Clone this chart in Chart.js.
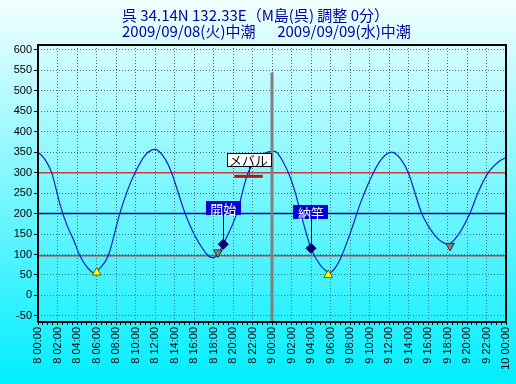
<!DOCTYPE html>
<html>
<head>
<meta charset="utf-8">
<script src="https://cdn.jsdelivr.net/npm/chart.js@4"></script>
<style>
  html, body { margin: 0; padding: 0; }
  #wrap { width: 516px; height: 384px; background: linear-gradient(#f2ffff, #00eeff); }
</style>
</head>
<body>
<div id="wrap"><canvas id="tideChart" width="516" height="384"></canvas></div>
<script>
const titleLines = ['呉 34.14N 132.33E（M島(呉) 調整 0分）', '2009/09/08(火)中潮　  2009/09/09(水)中潮'];

// hours from 2009/09/08 00:00, tide level in cm
const tideHours = [0, 0.7, 1.4, 2.26, 3, 3.62, 4.3, 5, 5.67, 6.4, 7.2, 8.4, 9.2, 9.95, 11, 12, 13, 13.7, 15.08, 16.1, 17.47, 17.95, 18.5, 19.0, 20.38, 21.54, 22.5, 23.4, 24.3, 25.1, 25.85, 26.4, 26.9, 28.0, 28.9, 29.95, 30.5, 31.15, 32.17, 33.03, 34.4, 35.3, 36.28, 37.2, 37.98, 39.35, 40.72, 41.4, 42.08, 43.1, 44.3, 45.2, 46.18, 47.38, 48];
const tideLevels = [350, 333, 300, 222, 170, 137, 97, 70, 56, 68, 97, 201, 258, 300, 343, 357, 335, 300, 201, 146, 97, 92, 102, 125, 200, 300, 332, 349, 352, 328, 290, 250, 205, 115, 76, 56, 68, 97, 162, 223, 300, 335, 350, 333, 300, 201, 146, 131, 125, 148, 201, 255, 300, 329, 337];

const lowHours = [6.02, 29.77];
const lowLevels = [56, 50];
const subLowHours = [18.46, 42.26];
const subLowLevels = [105, 121];

const eventNames = ['開始', '納竿'];
const eventHours = [19.0, 28.0];
const eventLevels = [125, 115];
const eventLabelLevels = [213, 204];

const catchName = 'メバル';
const catchHours = [20.13, 23.05];
const catchLevel = 291;
const catchLabelLevel = 331;

const redLineLevels = [300, 97];
const blueLineLevels = [200];
const dayChangeHour = 24;
const dayChangeTop = 545;

const yTicks = [-50, 0, 50, 100, 150, 200, 250, 300, 350, 400, 450, 500, 550, 600];
const xTickLabels = ['8 00:00', '8 02:00', '8 04:00', '8 06:00', '8 08:00', '8 10:00', '8 12:00', '8 14:00', '8 16:00', '8 18:00', '8 20:00', '8 22:00',
  '9 00:00', '9 02:00', '9 04:00', '9 06:00', '9 08:00', '9 10:00', '9 12:00', '9 14:00', '9 16:00', '9 18:00', '9 20:00', '9 22:00', '10 00:00'];

const yMin = -65, yMax = 612;
const pts = (xs, ys) => xs.map((h, i) => ({ x: h, y: ys[i] }));
const hLine = v => [{ x: 0, y: v }, { x: 48, y: v }];

const datasets = [];
redLineLevels.forEach(v => datasets.push({ data: hLine(v), borderColor: '#c04040', borderWidth: 1.5, pointRadius: 0, order: 10 }));
blueLineLevels.forEach(v => datasets.push({ data: hLine(v), borderColor: '#000090', borderWidth: 1.5, pointRadius: 0, order: 10 }));
datasets.push({ data: pts(tideHours, tideLevels), borderColor: '#1020c0', borderWidth: 1.2, pointRadius: 0, cubicInterpolationMode: 'monotone', order: 5 });
datasets.push({ data: [{ x: dayChangeHour, y: dayChangeTop }, { x: dayChangeHour, y: yMin }], borderColor: '#808080', borderWidth: 3, pointRadius: 0, order: 4 });
datasets.push({ data: [{ x: catchHours[0], y: catchLevel }, { x: catchHours[1], y: catchLevel }], borderColor: '#b01818', borderWidth: 3, pointRadius: 0, order: 3 });
datasets.push({ data: pts(lowHours, lowLevels), showLine: false, pointStyle: 'triangle', pointRadius: 5, backgroundColor: '#ffff00', borderColor: '#606000', borderWidth: 1, order: 2 });
datasets.push({ data: pts(subLowHours, subLowLevels), showLine: false, pointStyle: 'triangle', rotation: 180, pointRadius: 5, backgroundColor: '#808080', borderColor: '#303030', borderWidth: 1, order: 2 });
datasets.push({ data: pts(eventHours, eventLevels), showLine: false, pointStyle: 'rectRot', pointRadius: 5, backgroundColor: '#000080', borderColor: '#000060', borderWidth: 1, order: 1 });

// title is left-aligned in the original, so it is drawn here rather than by the title plugin
const heading = {
  id: 'heading',
  afterDraw(chart) {
    const { ctx } = chart;
    ctx.save();
    ctx.font = '15px "Noto Sans CJK JP", sans-serif';
    ctx.fillStyle = '#0000a0';
    ctx.textAlign = 'left';
    ctx.textBaseline = 'middle';
    titleLines.forEach((t, i) => ctx.fillText(t, 122, 15 + i * 16));
    ctx.restore();
  }
};

const frame = {
  id: 'frame',
  afterDraw(chart) {
    const { ctx, chartArea: a } = chart;
    ctx.save();
    ctx.strokeStyle = '#000';
    ctx.lineWidth = 2;
    ctx.strokeRect(a.left, a.top, a.right - a.left, a.bottom - a.top);
    ctx.restore();
  }
};

const labels = {
  id: 'labels',
  beforeDatasetsDraw(chart) {
    const { ctx, scales: { x, y } } = chart;
    ctx.save();
    ctx.strokeStyle = '#000';
    ctx.lineWidth = 1;
    eventNames.forEach((n, i) => {
      const px = Math.round(x.getPixelForValue(eventHours[i])) + 0.5;
      ctx.beginPath();
      ctx.moveTo(px, y.getPixelForValue(eventLabelLevels[i]));
      ctx.lineTo(px, y.getPixelForValue(eventLevels[i]));
      ctx.stroke();
    });
    const cx = Math.round(x.getPixelForValue((catchHours[0] + catchHours[1]) / 2)) + 0.5;
    ctx.beginPath();
    ctx.moveTo(cx, y.getPixelForValue(catchLabelLevel));
    ctx.lineTo(cx, y.getPixelForValue(catchLevel));
    ctx.stroke();
    ctx.restore();
  },
  afterDatasetsDraw(chart) {
    const { ctx, scales: { x, y } } = chart;
    ctx.save();
    ctx.font = '13px "Noto Sans CJK JP"';
    ctx.textAlign = 'center';
    ctx.textBaseline = 'middle';
    eventNames.forEach((n, i) => {
      const px = x.getPixelForValue(eventHours[i]);
      const py = y.getPixelForValue(eventLabelLevels[i]);
      const w = ctx.measureText(n).width + 9;
      ctx.fillStyle = '#0000d0';
      ctx.fillRect(Math.round(px - w / 2), Math.round(py - 7), Math.round(w), 14);
      ctx.fillStyle = '#fff';
      ctx.fillText(n, px, py + 1);
    });
    const cx = x.getPixelForValue((catchHours[0] + catchHours[1]) / 2);
    const cy = y.getPixelForValue(catchLabelLevel);
    const w = ctx.measureText(catchName).width + 5;
    ctx.fillStyle = '#fff';
    ctx.fillRect(Math.round(cx - w / 2) + 0.5, Math.round(cy - 7) + 0.5, Math.round(w), 13);
    ctx.strokeStyle = '#000';
    ctx.strokeRect(Math.round(cx - w / 2) + 0.5, Math.round(cy - 7) + 0.5, Math.round(w), 13);
    ctx.fillStyle = '#000';
    ctx.fillText(catchName, cx, cy);
    ctx.restore();
  }
};

const tickFont = { family: '"Liberation Sans", Arial, sans-serif', size: 11 };

new Chart(document.getElementById('tideChart'), {
  type: 'line',
  data: { datasets },
  options: {
    responsive: false,
    animation: false,
    layout: { padding: { left: 0, right: 0, top: 45, bottom: 0 } },
    plugins: {
      legend: { display: false },
      tooltip: { enabled: false },
      title: { display: false }
    },
    scales: {
      x: {
        type: 'linear',
        min: 0,
        max: 48,
        afterBuildTicks: s => { s.ticks = Array.from({ length: 97 }, (_, i) => ({ value: i * 0.5 })); },
        afterFit: s => { s.height = 62; s.paddingRight = 10; },
        ticks: {
          autoSkip: false,
          minRotation: 90,
          maxRotation: 90,
          padding: 2,
          color: '#000',
          font: tickFont,
          callback: v => (v % 2 === 0 ? xTickLabels[v / 2] : '')
        },
        grid: {
          color: c => (c.tick && c.tick.value % 2 === 0 ? 'rgba(50,70,70,0.75)' : 'rgba(0,0,0,0)'),
          tickColor: '#000',
          tickLength: 3,
          lineWidth: 1
        },
        border: { display: false, dash: [1, 2] }
      },
      y: {
        type: 'linear',
        min: yMin,
        max: yMax,
        afterBuildTicks: s => { s.ticks = yTicks.map(v => ({ value: v })); },
        afterFit: s => { s.width = 38; },
        ticks: { color: '#000', font: tickFont, padding: 2 },
        grid: { color: 'rgba(50,70,70,0.75)', tickColor: '#000', tickLength: 4, lineWidth: 1 },
        border: { display: false, dash: [1, 2] }
      }
    }
  },
  plugins: [frame, labels, heading]
});
</script>
</body>
</html>
